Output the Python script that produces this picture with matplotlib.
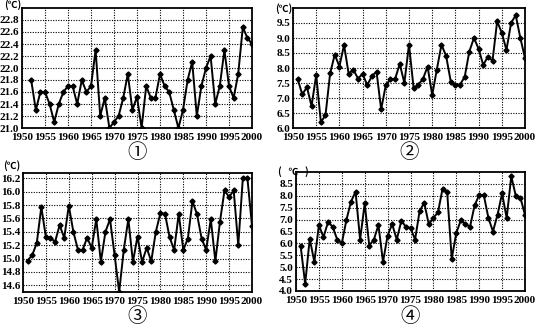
#! /usr/bin/env python3

import matplotlib.pyplot as plt
import numpy as np

# panel 1: 1952-2000
years1 = list(range(1952, 2001))
temps1 = [21.8, 21.3, 21.6, 21.6, 21.4, 21.1, 21.4, 21.6, 21.7, 21.7,
          21.4, 21.8, 21.6, 21.7, 22.3, 21.2, 21.5, 21.0, 21.1, 21.2,
          21.5, 21.9, 21.3, 21.52, 21.0, 21.7, 21.5, 21.5, 21.9, 21.7,
          21.6, 21.3, 21.0, 21.3, 21.8, 22.1, 21.2, 21.7, 22.0, 22.2,
          21.4, 21.7, 22.3, 21.7, 21.5, 21.9, 22.68, 22.5, 22.4]

# panel 2: 1951-2000
years2 = list(range(1951, 2001))
temps2 = [7.63, 7.12, 7.36, 6.73, 7.77, 6.2, 6.42, 7.82, 8.45, 8.05,
          8.77, 7.8, 7.95, 7.65, 7.8, 7.43, 7.73, 7.88, 6.62, 7.43,
          7.63, 7.63, 8.14, 7.5, 8.78, 7.32, 7.45, 7.63, 8.05, 7.1,
          7.95, 8.78, 8.4, 7.55, 7.43, 7.45, 7.7, 8.55, 9.0, 8.64,
          8.1, 8.38, 8.24, 9.56, 9.17, 8.6, 9.5, 9.76, 9.0, 8.33]

# panel 3: 1951-2000
years3 = list(range(1951, 2001))
temps3 = [14.97, 15.05, 15.23, 15.77, 15.32, 15.31, 15.25, 15.5, 15.31, 15.79,
          15.4, 15.13, 15.13, 15.31, 15.16, 15.59, 14.95, 15.4, 15.59, 15.05,
          14.5, 15.13, 15.59, 14.95, 15.33, 14.95, 15.16, 14.96, 15.4, 15.68,
          15.67, 15.32, 15.13, 15.67, 15.13, 15.3, 15.86, 15.66, 15.3, 15.13,
          15.59, 14.96, 15.55, 16.02, 15.92, 16.02, 15.2, 16.2, 16.2, 15.49]

# panel 4: 1951-2000
years4 = list(range(1951, 2001))
temps4 = [5.91, 4.3, 6.2, 5.22, 6.77, 6.26, 6.9, 6.7, 6.16, 6.0,
          6.98, 7.75, 8.17, 6.16, 7.68, 5.91, 6.16, 6.77, 5.22, 6.33,
          6.81, 6.16, 6.95, 6.7, 6.65, 6.16, 7.37, 7.7, 6.8, 7.08,
          7.3, 8.3, 8.17, 5.36, 6.44, 6.98, 6.8, 6.7, 7.6, 8.03,
          8.03, 7.08, 6.5, 7.2, 8.1, 7.06, 8.82, 7.99, 7.92, 7.2]

W, H = 536, 329
CJK = ['Noto Sans CJK SC', 'DejaVu Sans']

plt.rcParams['font.family'] = ['Liberation Serif', 'DejaVu Serif']
plt.rcParams['font.weight'] = 'bold'


def panel(fig, box, years, temps, ylim, yticks, label, unit, unit_xy):
    left, top, right, bottom = box
    ax = fig.add_axes([left / W, 1 - bottom / H, (right - left) / W, (bottom - top) / H])
    ax.plot(years, temps, color='black', lw=1.4, marker='D', ms=2.6,
            mfc='black', mec='black')
    ax.set_xlim(1950, 2000)
    ax.set_ylim(*ylim)
    ax.set_xticks(range(1950, 2001, 5))
    ax.set_yticks(yticks)
    ax.set_yticklabels(['{:.1f}'.format(v) for v in yticks])
    ax.grid(True, color='black', ls=(0, (1, 1.3)), lw=0.8)
    ax.tick_params(length=0, labelsize=8)
    ax.tick_params(axis='x', pad=3.5)
    ax.tick_params(axis='y', pad=2)
    for s in ax.spines.values():
        s.set_linewidth(1.3)
    fig.text(unit_xy[0] / W, 1 - unit_xy[1] / H, unit, fontsize=7,
             family=CJK, ha='center', va='center')
    cx = (left + right) / 2
    fig.text(cx / W, 1 - (bottom + 25) / H, label, fontsize=14,
             family=CJK, fontweight='normal', ha='center', va='center')
    return ax


fig = plt.figure(figsize=(W / 100, H / 100), dpi=100)

panel(fig, (22, 8, 252, 128), years1, temps1, (21.0, 23.0),
      np.round(np.arange(21.0, 22.81, 0.2), 1), '①', '(℃)', (13, 5))
panel(fig, (293, 8, 525, 128), years2, temps2, (6.0, 10.0),
      np.arange(6.0, 9.51, 0.5), '②', '(℃)', (284, 9))
panel(fig, (23, 173, 252, 292), years3, temps3, (14.5, 16.28),
      np.round(np.arange(14.6, 16.21, 0.2), 1), '③', '(℃)', (12, 166))
panel(fig, (296, 172, 525, 291), years4, temps4, (4.0, 9.0),
      np.arange(4.0, 8.51, 0.5), '④', '(   ℃   )', (293, 172))

fig.savefig('out.png', dpi=100)
